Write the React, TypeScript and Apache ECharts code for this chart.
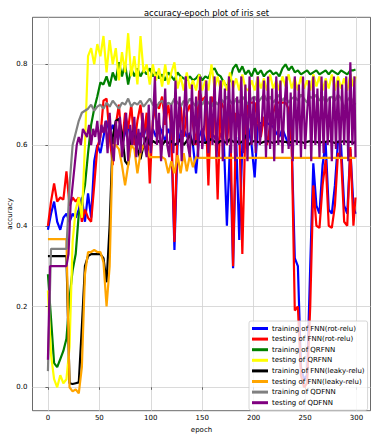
import React, { useEffect, useRef } from "react";
import * as echarts from "echarts";

const epochs = [
  0, 3, 6, 9, 12, 15, 18, 21, 24, 27,
  30, 33, 36, 39, 42, 45, 48, 51, 54, 57,
  60, 63, 66, 69, 72, 75, 78, 81, 84, 87,
  90, 93, 96, 99, 102, 105, 108, 111, 114, 117,
  120, 123, 126, 129, 132, 135, 138, 141, 144, 147,
  150, 153, 156, 159, 162, 165, 168, 171, 174, 177,
  180, 183, 186, 189, 192, 195, 198, 201, 204, 207,
  210, 213, 216, 219, 222, 225, 228, 231, 234, 237,
  240, 243, 246, 249, 252, 255, 258, 261, 264, 267,
  270, 273, 276, 279, 282, 285, 288, 291, 294, 297, 299,
];

const purpleEpochs = [
  0, 2, 4, 6, 8, 10, 12, 14, 16, 18,
  20, 22, 24, 26, 28, 30, 32, 34, 36, 38,
  40, 42, 44, 46, 48, 50, 52, 54, 56, 58,
  60, 62, 64, 66, 68, 70, 72, 74, 76, 78,
  80, 82, 84, 86, 88, 90, 92, 94, 96, 98,
  100, 102, 104, 106, 108, 110, 112, 114, 116, 118,
  120, 122, 124, 126, 128, 130, 132, 134, 136, 138,
  140, 142, 144, 146, 148, 150, 152, 154, 156, 158,
  160, 162, 164, 166, 168, 170, 172, 174, 176, 178,
  180, 182, 184, 186, 188, 190, 192, 194, 196, 198,
  200, 202, 204, 206, 208, 210, 212, 214, 216, 218,
  220, 222, 224, 226, 228, 230, 232, 234, 236, 238,
  240, 242, 244, 246, 248, 250, 252, 254, 256, 258,
  260, 262, 264, 266, 268, 270, 272, 274, 276, 278,
  280, 282, 284, 286, 288, 290, 292, 294, 296, 298, 299,
];

const trainFnnRot = [
  0.39, 0.43, 0.46, 0.41, 0.39, 0.42, 0.43, 0.41, 0.43, 0.42,
  0.44, 0.47, 0.41, 0.48, 0.42, 0.56, 0.6, 0.58, 0.62, 0.66,
  0.63, 0.65, 0.62, 0.64, 0.6, 0.63, 0.65, 0.61, 0.64, 0.6,
  0.63, 0.62, 0.65, 0.6, 0.64, 0.62, 0.65, 0.63, 0.61, 0.64,
  0.62, 0.34, 0.6, 0.63, 0.64, 0.62, 0.63, 0.6, 0.53, 0.62,
  0.64, 0.61, 0.6, 0.63, 0.62, 0.6, 0.63, 0.61, 0.4, 0.6,
  0.295, 0.62, 0.365, 0.6, 0.66, 0.64, 0.6, 0.52, 0.65, 0.655,
  0.65, 0.655, 0.65, 0.645, 0.63, 0.62, 0.64, 0.62, 0.6, 0.6,
  0.32, 0.3, 0.05, 0.02, 0.03, 0.3, 0.555, 0.45, 0.43, 0.55,
  0.605, 0.44, 0.43, 0.5, 0.61, 0.6, 0.45, 0.43, 0.59, 0.45, 0.43,
];

const testFnnRot = [
  0.4, 0.46, 0.505, 0.46, 0.47, 0.465, 0.535, 0.45, 0.47, 0.46,
  0.47, 0.41, 0.44, 0.42, 0.41, 0.5, 0.595, 0.62, 0.71, 0.715,
  0.62, 0.55, 0.65, 0.7, 0.6, 0.68, 0.64, 0.7, 0.6, 0.66,
  0.7, 0.62, 0.68, 0.505, 0.66, 0.7, 0.69, 0.72, 0.65, 0.7,
  0.64, 0.36, 0.65, 0.7, 0.62, 0.68, 0.7, 0.65, 0.6, 0.735,
  0.71, 0.72, 0.5, 0.72, 0.7, 0.465, 0.71, 0.69, 0.6, 0.7,
  0.3, 0.68, 0.65, 0.33, 0.65, 0.705, 0.705, 0.705, 0.66, 0.62,
  0.67, 0.6, 0.65, 0.68, 0.705, 0.705, 0.705, 0.705, 0.69, 0.6,
  0.19, 0.2, 0.03, 0.0, 0.01, 0.2, 0.5, 0.4, 0.395, 0.5,
  0.563, 0.4, 0.395, 0.45, 0.58, 0.57, 0.41, 0.4, 0.595, 0.4, 0.47,
];

const trainQrfnn = [
  0.28, 0.17, 0.06, 0.05, 0.07, 0.09, 0.12, 0.22, 0.29, 0.33,
  0.43, 0.46, 0.5, 0.58, 0.65, 0.69, 0.72, 0.755, 0.75, 0.77,
  0.745, 0.78, 0.76, 0.805, 0.77, 0.8, 0.75, 0.79, 0.77, 0.79,
  0.77, 0.785, 0.775, 0.79, 0.77, 0.78, 0.765, 0.775, 0.76, 0.78,
  0.77, 0.76, 0.78, 0.77, 0.765, 0.76, 0.77, 0.76, 0.765, 0.775,
  0.76, 0.77, 0.765, 0.785, 0.79, 0.775, 0.77, 0.755, 0.745, 0.76,
  0.79, 0.8, 0.78, 0.795, 0.775, 0.785, 0.77, 0.79, 0.775, 0.785,
  0.77, 0.78, 0.785, 0.775, 0.78, 0.77, 0.79, 0.8, 0.785, 0.795,
  0.78, 0.785, 0.775, 0.78, 0.785, 0.775, 0.78, 0.785, 0.775, 0.78,
  0.785, 0.775, 0.785, 0.78, 0.775, 0.785, 0.78, 0.775, 0.785, 0.785, 0.787,
];

const testQrfnn = [
  0.24, 0.08, 0.02, 0.0, 0.03, 0.01, 0.02, 0.1, 0.36, 0.44,
  0.47, 0.42, 0.6, 0.82, 0.84, 0.8, 0.85, 0.82, 0.87, 0.78,
  0.86, 0.8, 0.84, 0.76, 0.83, 0.78, 0.877, 0.77, 0.82, 0.75,
  0.87, 0.78, 0.8, 0.75, 0.8, 0.76, 0.79, 0.745, 0.8, 0.75,
  0.78, 0.805, 0.74, 0.77, 0.735, 0.78, 0.74, 0.76, 0.735, 0.775,
  0.735, 0.76, 0.735, 0.8, 0.74, 0.77, 0.735, 0.76, 0.735, 0.78,
  0.74, 0.765, 0.735, 0.775, 0.74, 0.735, 0.76, 0.735, 0.77, 0.74,
  0.765, 0.735, 0.775, 0.74, 0.76, 0.735, 0.77, 0.745, 0.775, 0.74,
  0.765, 0.735, 0.77, 0.74, 0.76, 0.735, 0.775, 0.745, 0.77, 0.735,
  0.765, 0.74, 0.775, 0.735, 0.77, 0.74, 0.765, 0.735, 0.775, 0.745, 0.77,
];

const trainFnnLeaky = [
  0.325, 0.325, 0.325, 0.325, 0.325, 0.325, 0.325, 0.01, 0.008, 0.01,
  0.012, 0.15, 0.3, 0.325, 0.33, 0.33, 0.33, 0.33, 0.32, 0.26,
  0.4, 0.62, 0.66, 0.665, 0.63, 0.56, 0.55, 0.62, 0.64, 0.59,
  0.565, 0.6, 0.62, 0.6, 0.61, 0.605, 0.61, 0.6, 0.61, 0.605,
  0.61, 0.6, 0.605, 0.615, 0.6, 0.61, 0.625, 0.6, 0.61, 0.608,
  0.608, 0.605, 0.61, 0.615, 0.608, 0.605, 0.61, 0.608, 0.605, 0.615,
  0.608, 0.61, 0.605, 0.608, 0.625, 0.6, 0.608, 0.61, 0.608, 0.605,
  0.608, 0.61, 0.608, 0.605, 0.608, 0.61, 0.608, 0.608, 0.605, 0.608,
  0.61, 0.608, 0.608, 0.605, 0.608, 0.61, 0.608, 0.608, 0.605, 0.608,
  0.608, 0.61, 0.608, 0.605, 0.608, 0.608, 0.61, 0.608, 0.608, 0.605, 0.608,
];

const testFnnLeaky = [
  0.367, 0.367, 0.367, 0.367, 0.367, 0.367, 0.367, 0.0, -0.01, -0.005,
  -0.015, 0.05, 0.28, 0.335, 0.335, 0.34, 0.335, 0.335, 0.31, 0.2,
  0.3, 0.6, 0.6, 0.59, 0.55, 0.5, 0.55, 0.6, 0.59, 0.53,
  0.58, 0.6, 0.59, 0.57, 0.57, 0.57, 0.57, 0.57, 0.565, 0.53,
  0.56, 0.53, 0.575, 0.53, 0.58, 0.535, 0.575, 0.545, 0.57, 0.568,
  0.568, 0.568, 0.568, 0.568, 0.568, 0.568, 0.568, 0.568, 0.568, 0.568,
  0.568, 0.568, 0.568, 0.568, 0.568, 0.568, 0.568, 0.568, 0.568, 0.568,
  0.568, 0.568, 0.568, 0.568, 0.568, 0.568, 0.568, 0.568, 0.568, 0.568,
  0.568, 0.568, 0.568, 0.568, 0.568, 0.568, 0.568, 0.568, 0.568, 0.568,
  0.568, 0.568, 0.568, 0.568, 0.568, 0.568, 0.568, 0.568, 0.568, 0.568, 0.568,
];

const trainQdfnn = [
  0.04, 0.343, 0.343, 0.343, 0.343, 0.343, 0.343, 0.5, 0.6, 0.63,
  0.66, 0.68, 0.685, 0.69, 0.7, 0.685, 0.695, 0.7, 0.69, 0.705,
  0.695, 0.71, 0.7, 0.69, 0.705, 0.7, 0.715, 0.695, 0.705, 0.7,
  0.71, 0.695, 0.705, 0.715, 0.7, 0.69, 0.705, 0.71, 0.695, 0.705,
  0.7, 0.715, 0.705, 0.695, 0.71, 0.7, 0.715, 0.705, 0.695, 0.71,
  0.7, 0.715, 0.705, 0.695, 0.71, 0.7, 0.715, 0.705, 0.72, 0.71,
  0.7, 0.715, 0.705, 0.72, 0.71, 0.7, 0.715, 0.72, 0.705, 0.715,
  0.725, 0.71, 0.72, 0.705, 0.715, 0.725, 0.71, 0.72, 0.705, 0.715,
  0.72, 0.71, 0.725, 0.715, 0.705, 0.72, 0.715, 0.725, 0.71, 0.72,
  0.705, 0.715, 0.72, 0.71, 0.725, 0.715, 0.69, 0.71, 0.72, 0.705, 0.7,
];

const testQdfnn = [
  0.068, 0.3, 0.3, 0.3, 0.3, 0.3, 0.3, 0.3, 0.3, 0.3,
  0.33, 0.45, 0.5, 0.55, 0.6, 0.62, 0.6, 0.64, 0.63, 0.62,
  0.65, 0.6, 0.64, 0.62, 0.66, 0.6, 0.65, 0.63, 0.66, 0.58,
  0.68, 0.6, 0.56, 0.66, 0.6, 0.67, 0.57, 0.62, 0.68, 0.56,
  0.65, 0.6, 0.67, 0.57, 0.64, 0.58, 0.68, 0.6, 0.57, 0.7,
  0.58, 0.65, 0.77, 0.6, 0.68, 0.56, 0.64, 0.74, 0.6, 0.57,
  0.7, 0.58, 0.76, 0.6, 0.72, 0.56, 0.66, 0.77, 0.6, 0.57,
  0.75, 0.6, 0.72, 0.57, 0.77, 0.59, 0.65, 0.76, 0.58, 0.72,
  0.6, 0.77, 0.57, 0.7, 0.76, 0.56, 0.74, 0.6, 0.77, 0.58,
  0.76, 0.56, 0.72, 0.6, 0.77, 0.58, 0.75, 0.56, 0.77, 0.6,
  0.72, 0.58, 0.77, 0.6, 0.66, 0.76, 0.57, 0.77, 0.59, 0.74,
  0.56, 0.77, 0.6, 0.76, 0.58, 0.7, 0.77, 0.59, 0.73, 0.56,
  0.77, 0.6, 0.75, 0.57, 0.77, 0.59, 0.68, 0.76, 0.56, 0.77,
  0.6, 0.74, 0.57, 0.77, 0.58, 0.76, 0.6, 0.72, 0.56, 0.77,
  0.59, 0.76, 0.57, 0.75, 0.6, 0.77, 0.56, 0.805, 0.6, 0.77, 0.57,
];

const xTicks = [0, 50, 100, 150, 200, 250, 300];
const yTicks = [0, 0.2, 0.4, 0.6, 0.8];

const seriesDefs = [
  { name: "training of FNN(rot-relu)", color: "#0000ff", xs: epochs, values: trainFnnRot },
  { name: "testing of FNN(rot-relu)", color: "#ff0000", xs: epochs, values: testFnnRot },
  { name: "training of QRFNN", color: "#008000", xs: epochs, values: trainQrfnn },
  { name: "testing of QRFNN", color: "#ffff00", xs: epochs, values: testQrfnn },
  { name: "training of FNN(leaky-relu)", color: "#000000", xs: epochs, values: trainFnnLeaky },
  { name: "testing of FNN(leaky-relu)", color: "#ffa500", xs: epochs, values: testFnnLeaky },
  { name: "training of QDFNN", color: "#808080", xs: epochs, values: trainQdfnn },
  { name: "testing of QDFNN", color: "#800080", xs: purpleEpochs, values: testQdfnn },
];

const FONT = "DejaVu Sans";

export default function App() {
  const ref = useRef<HTMLDivElement>(null);
  useEffect(() => {
    if (!ref.current) return;
    const chart = echarts.init(ref.current, null, { renderer: "svg" });
    chart.setOption({
      animation: false,
      backgroundColor: "#ffffff",
      textStyle: { fontFamily: FONT },
      title: {
        text: "accuracy-epoch plot of iris set",
        left: 201.5,
        top: 4,
        textAlign: "center",
        textStyle: { fontFamily: FONT, fontSize: 8.3, fontWeight: "normal", color: "#000" },
      },
      grid: {
        left: 32.5,
        right: 10.5,
        top: 17.3,
        bottom: 29.3,
        show: true,
        borderColor: "#444",
        borderWidth: 0.8,
        outerBoundsMode: "none",
        containLabel: false,
      },
      legend: {
        orient: "vertical",
        left: 249,
        top: 321,
        padding: [3, 3, 3, 3],
        itemGap: 1.6,
        itemWidth: 16,
        itemHeight: 3,
        icon: "rect",
        backgroundColor: "rgba(255,255,255,0.8)",
        borderColor: "#cccccc",
        borderWidth: 0.8,
        borderRadius: 2,
        textStyle: { fontFamily: FONT, fontSize: 7, lineHeight: 9, color: "#000", padding: [0, 0, 0, -1] },
        data: seriesDefs.map((s) => s.name),
      },
      xAxis: {
        type: "value",
        min: -15,
        max: 313.6,
        name: "epoch",
        nameLocation: "middle",
        nameGap: 16,
        nameMoveOverlap: false,
        nameTextStyle: { fontFamily: FONT, fontSize: 7, color: "#000" },
        axisLine: { show: false },
        axisTick: { show: true, length: 2.5, customValues: xTicks, lineStyle: { color: "#444", width: 0.8 } },
        axisLabel: { customValues: xTicks, fontFamily: FONT, fontSize: 7, color: "#000", margin: 4 },
        splitLine: { show: true, lineStyle: { color: "#d0d0d0", width: 0.8 } },
      },
      yAxis: {
        type: "value",
        min: -0.058,
        max: 0.9164,
        name: "accuracy",
        nameLocation: "middle",
        nameGap: 19,
        nameMoveOverlap: false,
        nameTextStyle: { fontFamily: FONT, fontSize: 7, color: "#000" },
        axisLine: { show: false },
        axisTick: { show: true, length: 2.5, customValues: yTicks, lineStyle: { color: "#444", width: 0.8 } },
        axisLabel: {
          customValues: yTicks,
          fontFamily: FONT,
          fontSize: 7,
          color: "#000",
          margin: 5,
          formatter: (v: number) => v.toFixed(1),
        },
        splitLine: { show: true, lineStyle: { color: "#d0d0d0", width: 0.8 } },
      },
      series: seriesDefs.map((s) => ({
        name: s.name,
        type: "line",
        symbol: "none",
        color: s.color,
        lineStyle: { color: s.color, width: 2.2 },
        data: s.xs.map((e, i) => [e, s.values[i]]),
      })),
    });
    return () => chart.dispose();
  }, []);
  return (
    <div
      ref={ref}
      style={{ position: "fixed", left: 0, top: 0, width: 381, height: 440 }}
    />
  );
}
